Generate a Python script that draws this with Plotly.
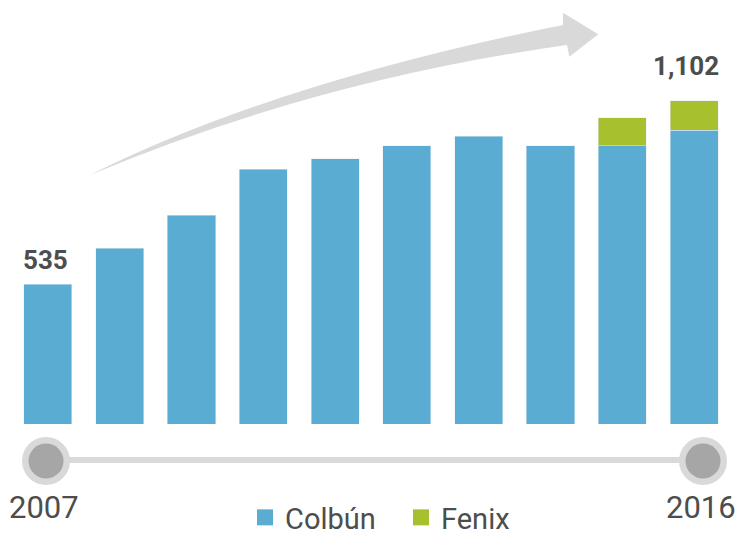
import plotly.graph_objects as go

# ---------------- data ----------------
years = ["2007", "2008", "2009", "2010", "2011", "2012", "2013", "2014", "2015", "2016"]
colbun = [535, 645, 748, 890, 923, 963, 992, 962, 962, 1010]
fenix = [None, None, None, None, None, None, None, None, 87, 92]
series_names = ["Colbún", "Fenix"]
timeline_labels = ["2007", "2016"]

# ---------------- style ----------------
BLUE = "#5BACD2"
GREEN = "#A6C02E"
TEXT = "#4D4D4D"
LIGHT = "#D9D9D9"
DARK_DOT = "#A6A6A6"
W, H = 740, 535
ML, MR, MT, MB = 12, 10, 0, 111
PW, PH = W - ML - MR, H - MT - MB
Y0, Y1 = 102, 1413.4


def px(x):
    return (x - ML) / PW


def py(y):
    return (PH + MT - y) / PH


totals = [c + (f or 0) for c, f in zip(colbun, fenix)]

fig = go.Figure()
fig.add_trace(go.Bar(x=years, y=colbun, name=series_names[0], marker_color=BLUE,
                     showlegend=False))
fig.add_trace(go.Bar(x=years, y=fenix, name=series_names[1], marker_color=GREEN,
                     showlegend=False))
# legend entries (square markers)
for nm, col in zip(series_names, [BLUE, GREEN]):
    fig.add_trace(go.Scatter(x=[None], y=[None], mode="markers", name=nm,
                             marker=dict(symbol="square", size=16, color=col)))

annotations = []
# value labels for first and last bars (x given as category index)
for i, xs, ys in ((0, -2.5, 7), (len(years) - 1, -8, 18)):
    annotations.append(dict(x=i, y=totals[i], xref="x", yref="y",
                            text="<b>" + f"{totals[i]:,}" + "</b>", showarrow=False,
                            yanchor="bottom", xanchor="center", xshift=xs, yshift=ys,
                            font=dict(family="Roboto", size=26, color=TEXT)))
# timeline year labels
for lab, xs in zip(timeline_labels, [-4, 7]):
    annotations.append(dict(x=years.index(lab), xref="x", y=py(528), yref="paper", text=lab,
                            showarrow=False, yanchor="bottom", xanchor="center", xshift=xs,
                            font=dict(family="Roboto", size=31, color=TEXT)))

shapes = []
# timeline line and dots
shapes.append(dict(type="line", xref="paper", yref="paper", x0=px(46), x1=px(703),
                   y0=py(460), y1=py(460), line=dict(color=LIGHT, width=6), layer="below"))
for cx in (46, 703):
    shapes.append(dict(type="circle", xref="paper", yref="paper",
                       x0=px(cx - 24), x1=px(cx + 24), y0=py(461 + 24), y1=py(461 - 24),
                       fillcolor=LIGHT, line=dict(width=0)))
    shapes.append(dict(type="circle", xref="paper", yref="paper",
                       x0=px(cx - 17.5), x1=px(cx + 17.5), y0=py(461 + 17.5), y1=py(461 - 17.5),
                       fillcolor=DARK_DOT, line=dict(width=0)))


# curved growth arrow
def P(x, y):
    return f"{px(x):.5f},{py(y):.5f}"


path = ("M" + P(90, 175) + " Q" + P(274.7, 82.7) + " " + P(563, 25) +
        " L" + P(563, 12.7) + " L" + P(598.3, 34.3) + " L" + P(569.3, 56.7) +
        " L" + P(567, 45) + " Q" + P(315.7, 80.2) + " " + P(90, 175) + " Z")
shapes.append(dict(type="path", xref="paper", yref="paper", path=path,
                   fillcolor=LIGHT, line=dict(width=0)))

fig.update_layout(
    width=W, height=H,
    margin=dict(l=ML, r=MR, t=MT, b=MB, pad=0, autoexpand=False),
    barmode="stack", bargap=0.331,
    plot_bgcolor="white", paper_bgcolor="white",
    xaxis=dict(type="category", range=[-0.5, 9.5], showticklabels=False,
               showgrid=False, zeroline=False, showline=False, ticks=""),
    yaxis=dict(range=[Y0, Y1], showticklabels=False, showgrid=False,
               zeroline=False, showline=False, ticks=""),
    showlegend=True,
    legend=dict(orientation="h", x=px(245), xanchor="left", y=py(492), yanchor="top",
                traceorder="normal",
                font=dict(family="Roboto", size=29, color=TEXT),
                bgcolor="rgba(0,0,0,0)", entrywidth=111, itemwidth=30),
    shapes=shapes,
    annotations=annotations,
)

fig.write_html("out.html")
